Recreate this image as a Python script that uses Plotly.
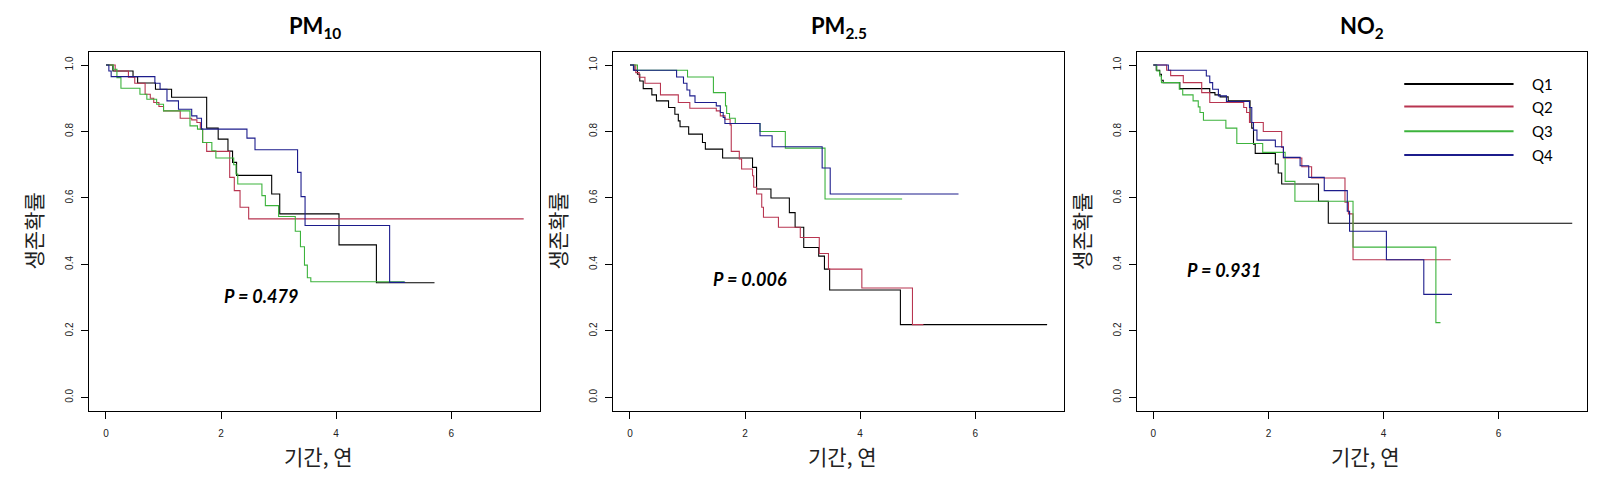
import plotly.graph_objects as go

# ---------------- data ----------------
groups = ["Q1", "Q2", "Q3", "Q4"]
panel_titles = ["<b>PM<sub>10</sub></b>", "<b>PM<sub>2.5</sub></b>", "<b>NO<sub>2</sub></b>"]
p_values = ["P = 0.479", "P = 0.006", "P = 0.931"]
x_ticks = [0, 2, 4, 6]
y_ticks = [0.0, 0.2, 0.4, 0.6, 0.8, 1.0]
y_ticktext = ["0.0", "0.2", "0.4", "0.6", "0.8", "1.0"]

# PM10
pm10_q1_t = [0, 0.12, 0.47, 0.55, 0.86, 1.14, 1.75, 1.95, 2.12, 2.20, 2.27, 2.88, 3.02, 4.05, 4.70, 5.71]
pm10_q1_s = [1, 0.982, 0.965, 0.946, 0.927, 0.903, 0.810, 0.777, 0.741, 0.707, 0.668, 0.612, 0.552, 0.459, 0.345, 0.345]
pm10_q2_t = [0, 0.16, 0.39, 0.50, 0.68, 0.77, 0.83, 0.92, 1.00, 1.29, 1.49, 1.58, 1.64, 1.68, 1.75, 2.15, 2.23, 2.33, 2.48, 7.26]
pm10_q2_s = [1, 0.982, 0.963, 0.945, 0.912, 0.900, 0.887, 0.875, 0.862, 0.840, 0.835, 0.827, 0.807, 0.767, 0.740, 0.662, 0.622, 0.572, 0.537, 0.537]
pm10_q3_t = [0, 0.13, 0.19, 0.26, 0.59, 0.71, 0.88, 1.00, 1.46, 1.59, 1.68, 1.84, 1.91, 2.22, 2.26, 2.29, 2.71, 2.77, 3.00, 3.29, 3.38, 3.45, 3.50, 3.56, 5.19]
pm10_q3_s = [1, 0.987, 0.962, 0.930, 0.912, 0.897, 0.882, 0.862, 0.817, 0.807, 0.767, 0.742, 0.720, 0.700, 0.672, 0.642, 0.607, 0.577, 0.544, 0.500, 0.453, 0.398, 0.360, 0.348, 0.348]
pm10_q4_t = [0, 0.05, 0.09, 0.85, 0.94, 1.06, 1.26, 1.49, 1.58, 1.66, 2.45, 2.59, 3.33, 3.39, 3.46, 4.93, 5.20]
pm10_q4_s = [1, 0.982, 0.965, 0.945, 0.927, 0.892, 0.867, 0.847, 0.840, 0.807, 0.780, 0.745, 0.677, 0.604, 0.517, 0.346, 0.346]

# PM2.5
pm25_q1_t = [0, 0.07, 0.13, 0.17, 0.23, 0.38, 0.46, 0.67, 0.78, 0.84, 0.87, 1.02, 1.26, 1.31, 1.61, 2.13, 2.20, 2.45, 2.77, 2.87, 3.02, 3.28, 3.38, 3.47, 4.70, 7.25]
pm25_q1_s = [1, 0.984, 0.972, 0.952, 0.929, 0.910, 0.892, 0.872, 0.852, 0.832, 0.814, 0.792, 0.767, 0.747, 0.720, 0.692, 0.627, 0.600, 0.556, 0.512, 0.451, 0.425, 0.386, 0.323, 0.219, 0.219]
pm25_q2_t = [0, 0.10, 0.16, 0.26, 0.53, 0.84, 1.04, 1.50, 1.57, 1.65, 1.74, 1.76, 1.90, 1.94, 2.13, 2.15, 2.20, 2.29, 2.32, 2.58, 2.96, 3.29, 3.45, 4.03, 4.91, 5.10]
pm25_q2_s = [1, 0.977, 0.963, 0.945, 0.910, 0.887, 0.870, 0.862, 0.847, 0.837, 0.820, 0.740, 0.717, 0.687, 0.667, 0.632, 0.612, 0.572, 0.542, 0.512, 0.481, 0.433, 0.386, 0.329, 0.219, 0.219]
pm25_q3_t = [0, 0.13, 1.00, 1.45, 1.66, 1.68, 1.73, 1.83, 2.26, 2.70, 3.39, 4.73]
pm25_q3_s = [1, 0.984, 0.964, 0.917, 0.877, 0.854, 0.840, 0.824, 0.800, 0.750, 0.597, 0.597]
pm25_q4_t = [0, 0.06, 0.81, 0.93, 0.99, 1.04, 1.13, 1.50, 1.57, 1.62, 1.65, 2.26, 2.47, 3.34, 3.48, 5.71]
pm25_q4_s = [1, 0.984, 0.964, 0.945, 0.925, 0.907, 0.887, 0.877, 0.857, 0.842, 0.824, 0.787, 0.754, 0.690, 0.612, 0.612]

# NO2
no2_q1_t = [0, 0.05, 0.11, 0.14, 0.17, 0.46, 0.98, 1.07, 1.16, 1.30, 1.68, 1.71, 1.74, 1.77, 2.12, 2.17, 2.23, 2.87, 3.04, 7.28]
no2_q1_s = [1, 0.984, 0.972, 0.954, 0.947, 0.929, 0.917, 0.910, 0.904, 0.892, 0.827, 0.810, 0.762, 0.734, 0.702, 0.675, 0.642, 0.590, 0.524, 0.524]
no2_q2_t = [0, 0.23, 0.30, 0.52, 0.84, 0.98, 1.57, 1.62, 1.67, 1.91, 2.23, 2.26, 2.58, 2.75, 3.33, 3.39, 3.47, 5.17]
no2_q2_s = [1, 0.984, 0.968, 0.947, 0.917, 0.887, 0.872, 0.857, 0.827, 0.800, 0.752, 0.720, 0.694, 0.660, 0.587, 0.552, 0.414, 0.414]
no2_q3_t = [0, 0.06, 0.11, 0.14, 0.45, 0.51, 0.69, 0.78, 0.81, 0.87, 1.26, 1.45, 1.90, 2.29, 2.46, 3.47, 4.91, 4.99]
no2_q3_s = [1, 0.982, 0.967, 0.947, 0.927, 0.910, 0.892, 0.874, 0.857, 0.834, 0.810, 0.764, 0.737, 0.650, 0.590, 0.452, 0.225, 0.225]
no2_q4_t = [0, 0.26, 0.92, 0.98, 1.03, 1.13, 1.27, 1.67, 1.71, 1.74, 1.80, 2.12, 2.26, 2.55, 2.70, 2.97, 3.37, 3.41, 4.05, 4.70, 5.19]
no2_q4_s = [1, 0.984, 0.967, 0.947, 0.927, 0.907, 0.890, 0.872, 0.827, 0.804, 0.774, 0.754, 0.722, 0.697, 0.662, 0.622, 0.560, 0.500, 0.414, 0.310, 0.310]

# ---------------- styling ----------------
colors = ["#000000", "#b83550", "#3cb33c", "#1c1c8c"]
W, H = 1604, 481
box_left = [89.3, 613.3, 1136.7]
box_width = 450.5
box_top, box_bottom = 51.7, 410.7
x_range = [-0.29, 7.54]
y_range = [-0.04, 1.04]

panels = [
    [(pm10_q1_t, pm10_q1_s), (pm10_q2_t, pm10_q2_s), (pm10_q3_t, pm10_q3_s), (pm10_q4_t, pm10_q4_s)],
    [(pm25_q1_t, pm25_q1_s), (pm25_q2_t, pm25_q2_s), (pm25_q3_t, pm25_q3_s), (pm25_q4_t, pm25_q4_s)],
    [(no2_q1_t, no2_q1_s), (no2_q2_t, no2_q2_s), (no2_q3_t, no2_q3_s), (no2_q4_t, no2_q4_s)],
]
p_pos = [(2.70, 0.304), (2.09, 0.357), (1.23, 0.382)]


def px(x):
    return x / W


def py(y):
    return 1 - y / H


fig = go.Figure()
annotations = []
shapes = []
for i, curves in enumerate(panels):
    sfx = "" if i == 0 else str(i + 1)
    xa, ya = "x" + sfx, "y" + sfx
    for g, (t, s) in enumerate(curves):
        fig.add_trace(go.Scatter(x=t, y=s, mode="lines", line=dict(color=colors[g], width=1.1, shape="hv"),
                                 xaxis=xa, yaxis=ya, showlegend=False, name=groups[g]))
    d0, d1 = px(box_left[i]), px(box_left[i] + box_width)
    axis_common = dict(showline=True, mirror=True, linecolor="#000", linewidth=1, ticks="outside",
                       ticklen=7, tickcolor="#000", showgrid=False, zeroline=False,
                       tickfont=dict(family="Liberation Sans", size=10, color="#222"))
    fig.update_layout(**{
        "xaxis" + sfx: dict(domain=[d0, d1], range=x_range, tickvals=x_ticks, anchor=ya,
                            ticklabelstandoff=6, **axis_common),
        "yaxis" + sfx: dict(domain=[py(box_bottom), py(box_top)], range=y_range, tickvals=y_ticks,
                            ticktext=y_ticktext, tickangle=-90, anchor=xa, ticklabelstandoff=4, **axis_common),
    })
    cx = box_left[i] + box_width / 2
    annotations.append(dict(text=panel_titles[i], x=px(cx), y=py(27), xref="paper", yref="paper",
                            xanchor="center", yanchor="middle",
                            showarrow=False, font=dict(family="Lato", size=22, color="#000")))
    annotations.append(dict(text="기간, 연", x=px(cx + 4), y=py(456), xref="paper", yref="paper",
                            xanchor="center", yanchor="middle",
                            showarrow=False, font=dict(family="Noto Sans CJK KR", size=21, color="#222")))
    annotations.append(dict(text="생존확률", x=px(box_left[i] - 56), y=py((box_top + box_bottom) / 2),
                            xref="paper", yref="paper", textangle=-90, showarrow=False,
                            xanchor="center", yanchor="middle",
                            font=dict(family="Noto Sans CJK KR", size=21, color="#222")))
    annotations.append(dict(text="<b><i>" + p_values[i] + "</i></b>", x=p_pos[i][0], y=p_pos[i][1],
                            xref=xa, yref=ya, showarrow=False, xanchor="center", yanchor="middle",
                            font=dict(family="Lato", size=18, color="#000")))

# legend drawn inside third panel
leg_y = [0.943, 0.875, 0.801, 0.729]
for g in range(4):
    shapes.append(dict(type="line", xref="x3", yref="y3", x0=4.36, x1=6.26, y0=leg_y[g], y1=leg_y[g],
                       line=dict(color=colors[g], width=2)))
    annotations.append(dict(text=groups[g], x=6.55, y=leg_y[g], xref="x3", yref="y3", xanchor="left",
                            yanchor="middle",
                            showarrow=False, font=dict(family="Lato", size=15, color="#000")))

fig.update_layout(width=W, height=H, margin=dict(l=0, r=0, t=0, b=0), paper_bgcolor="white",
                  plot_bgcolor="white", annotations=annotations, shapes=shapes, showlegend=False)

fig.write_html("out.html", config={"displayModeBar": False},
               post_script="document.body.style.margin='0';")
